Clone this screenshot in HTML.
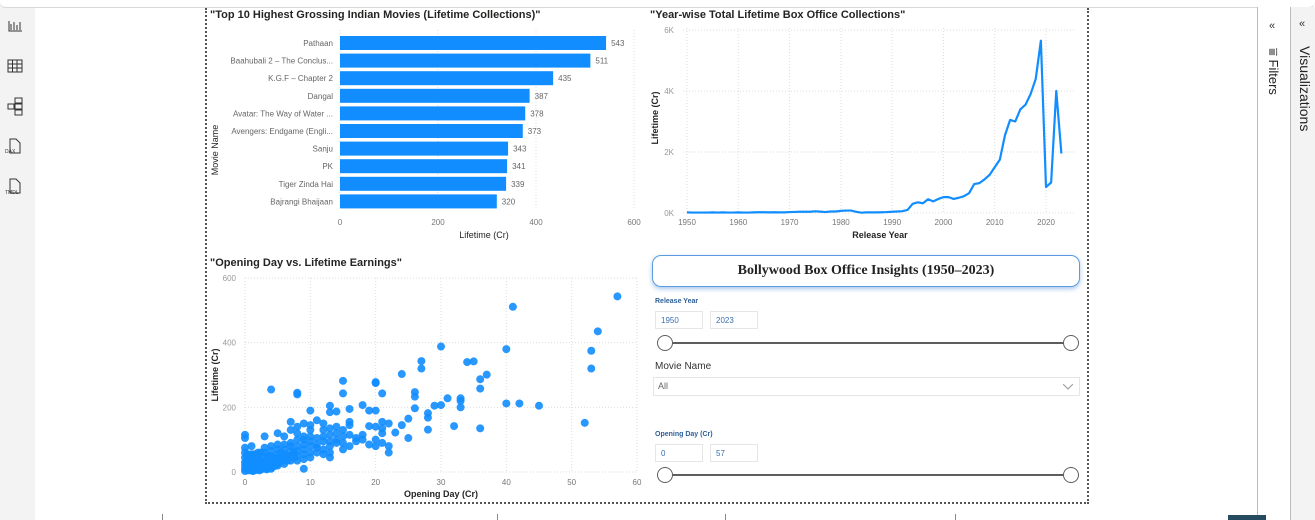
<!DOCTYPE html>
<html><head><meta charset="utf-8">
<style>
body{margin:0;width:1315px;height:520px;overflow:hidden;background:#fff;font-family:"Liberation Sans",sans-serif;position:relative}
.abs{position:absolute}
.inp{position:absolute;width:48px;height:18px;border:1px solid #e6e6e6;font-size:8px;color:#3a6fb0;line-height:18px;padding-left:5px;box-sizing:border-box}
</style></head><body>
<div class="abs" style="left:0;top:0;width:35px;height:520px;background:#f3f3f3"></div>
<div class="abs" style="left:0;top:0;width:1315px;height:7px;background:#fff;border-bottom:1px solid #d8d8d8;border-radius:0 0 6px 6px"></div>
<svg class="abs" style="left:0;top:0" width="35" height="210">
<g stroke="#333" fill="none" stroke-width="1">
<path d="M9 21v10h13M11 24v6M14 22v8M17 25v5M20 22v8"/>
<rect x="8" y="60" width="14" height="12"/><path d="M8 64h14M8 68h14M12.5 60v12M17 60v12"/>
<rect x="15" y="98" width="7" height="5"/><rect x="15" y="104" width="7" height="5"/><rect x="15" y="110" width="7" height="5"/><rect x="8" y="104" width="6" height="5"/>
<path d="M10 139h6l4 4v10h-10z"/><path d="M10 179h6l4 4v10h-10z"/></g>
<text x="5" y="153" font-size="5" fill="#333">DAX</text><text x="5" y="194" font-size="5" fill="#333">TMDL</text></svg>
<div class="abs" style="left:1257px;top:7px;width:33px;height:513px;border-left:1px solid #bbb;background:#fff"></div>
<div class="abs" style="left:1290px;top:7px;width:25px;height:513px;border-left:1px solid #bbb;background:#f3f3f3"></div>
<div class="abs" style="left:1269px;top:20px;font-size:11px;color:#333">«</div>
<div class="abs" style="left:1299px;top:18px;font-size:11px;color:#333">«</div>
<div class="abs" style="left:1266px;top:48px;writing-mode:vertical-rl;font-size:13px;color:#222">⩸ Filters</div>
<div class="abs" style="left:1297px;top:46px;writing-mode:vertical-rl;font-size:14px;color:#222">Visualizations</div>
<div class="abs" style="left:1228px;top:515px;width:38px;height:5px;background:#264a60"></div>
<div class="abs" style="left:205px;top:8px;width:880px;height:494px;border:2px dotted #555;border-top:none"></div>

<svg class="abs" style="left:0;top:0" width="1315" height="520" id="charts" font-family="Liberation Sans, sans-serif">
<text x="210" y="18" font-size="11" font-weight="bold" fill="#252423">"Top 10 Highest Grossing Indian Movies (Lifetime Collections)"</text>
<text x="650" y="18" font-size="11" font-weight="bold" fill="#252423">"Year-wise Total Lifetime Box Office Collections"</text>
<text x="210" y="266" font-size="11" font-weight="bold" fill="#252423">"Opening Day vs. Lifetime Earnings"</text>
<g id="bar"></g><g id="line"></g><g id="scatter"></g>
<g fill="#888"><rect x="162" y="514" width="1" height="6"/><rect x="497" y="514" width="1" height="6"/><rect x="725" y="514" width="1" height="6"/><rect x="955" y="514" width="1" height="6"/></g>
</svg>

<div class="abs" style="left:652px;top:255px;width:428px;height:32px;box-sizing:border-box;border:1.5px solid #5a9be0;border-radius:9px;box-shadow:0 2px 5px rgba(60,130,220,.45);text-align:center;line-height:30px;font-family:'Liberation Serif',serif;font-weight:bold;font-size:14px;color:#222">Bollywood Box Office Insights (1950–2023)</div>
<div class="abs" style="left:655px;top:298px;font-size:7px;font-weight:bold;color:#2d5f99">Release Year</div>
<div class="inp" style="left:655px;top:311px">1950</div>
<div class="inp" style="left:710px;top:311px">2023</div>
<div class="abs" style="left:665px;top:342px;width:406px;height:2px;background:#605e5c"></div>
<div class="abs" style="left:657px;top:335px;width:14px;height:14px;border:1.5px solid #605e5c;border-radius:50%;background:#fff"></div>
<div class="abs" style="left:1063px;top:335px;width:14px;height:14px;border:1.5px solid #605e5c;border-radius:50%;background:#fff"></div>
<div class="abs" style="left:655px;top:361px;font-size:10px;color:#333">Movie Name</div>
<div class="abs" style="left:653px;top:377px;width:427px;height:19px;border:1px solid #e6e6e6;box-sizing:border-box;font-size:9px;color:#666;line-height:17px;padding-left:4px">All<svg style="position:absolute;right:6px;top:6px" width="10" height="6"><path d="M0 0l5 5l5-5" fill="none" stroke="#999"/></svg></div>
<div class="abs" style="left:655px;top:431px;font-size:7px;font-weight:bold;color:#2d5f99">Opening Day (Cr)</div>
<div class="inp" style="left:655px;top:444px">0</div>
<div class="inp" style="left:710px;top:444px">57</div>
<div class="abs" style="left:665px;top:474px;width:406px;height:2px;background:#605e5c"></div>
<div class="abs" style="left:657px;top:467px;width:14px;height:14px;border:1.5px solid #605e5c;border-radius:50%;background:#fff"></div>
<div class="abs" style="left:1063px;top:467px;width:14px;height:14px;border:1.5px solid #605e5c;border-radius:50%;background:#fff"></div>

<script>
const barMovies=["Pathaan","Baahubali 2 – The Conclus...","K.G.F – Chapter 2","Dangal","Avatar: The Way of Water ...","Avengers: Endgame (Engli...","Sanju","PK","Tiger Zinda Hai","Bajrangi Bhaijaan"];
const barValues=[543,511,435,387,378,373,343,341,339,320];
const barTicks=[0,200,400,600];
const lineYears=[];for(let y=1950;y<=2023;y++)lineYears.push(y);
const lineValues=[20,15,15,15,15,20,15,20,15,15,20,15,15,20,25,25,20,25,20,20,30,35,40,40,40,55,45,30,50,50,70,80,80,40,10,20,20,20,25,30,40,50,60,100,300,350,320,450,380,460,520,520,460,500,550,650,950,980,1100,1250,1500,1750,2550,3050,3000,3400,3550,3900,4400,5650,850,1000,4000,1950];
const lineXTicks=[1950,1960,1970,1980,1990,2000,2010,2020];
const lineYTicks=[0,2000,4000,6000];
const lineYLabels=["0K","2K","4K","6K"];
const scatterOpening=[57,41,54,53,53,52,30,40,40,42,45,34,35,27,27,24,36,37,36,36,26,26,26,31,33,33,33,29,30,28,28,28,32,25,25,24,23,22,22,22,21,21,21,21,21,20,20,20,20,20,20,19,19,19,18,18,18,17,17,16,16,16,16,16,15,15,15,15,15,15,14,14,14,14,14,13,13,13,13,13,13,13,13,12,12,12,12,12,12,11,11,11,11,11,10,10,10,10,10,10,10,10,9,9,9,9,9,9,9,9,8,8,8,8,8,8,8,8,8,7,7,7,7,7,7,7,6,6,6,6,6,6,5,5,5,5,5,5,4,4,4,4,4,4,4,3,3,3,3,3,3,2,2,2,2,2,2,1,1,1,1,1,1,1,0,0,0,0,0,0,0,0,0,0.5,0.5,1.5,1.5,2.5,2.5,3.5,3.5,4.5,4.5,5.5,5.5,6.5,6.5,7.5,7.5,0.3,0.8,1.2,2.2,3.3,0.5,1,1.5,2,2.5,3,3.5,4,4.5,5,0.2,0.7,1.7,2.7,3.7,4.7,5.7,0.4,1.4,2.4];
const scatterLifetime=[543,511,435,375,320,152,388,380,212,212,205,340,342,343,320,303,287,301,258,135,247,233,197,228,228,220,200,205,207,182,168,131,142,165,105,145,122,150,80,60,243,155,135,120,90,278,275,190,140,100,80,190,142,85,207,115,100,95,105,195,155,145,115,80,282,243,130,110,90,70,187,140,120,100,90,205,185,135,115,95,80,60,45,150,130,110,95,70,55,160,105,85,75,60,190,145,130,110,95,80,60,45,150,110,100,85,70,55,40,10,245,240,140,120,100,80,65,50,35,155,130,90,80,65,50,35,110,85,70,55,40,25,120,85,70,55,40,25,255,80,65,50,35,20,10,110,75,60,45,30,15,60,50,40,30,20,10,80,55,45,35,25,15,5,115,105,75,60,45,30,20,10,3,40,20,30,10,35,15,50,25,45,30,60,40,50,35,60,45,50,8,3,5,8,5,10,5,12,8,15,10,15,18,20,28,25,22,20,25,30,35,55,55,60];
const scatterXTicks=[0,10,20,30,40,50,60];
const scatterYTicks=[0,200,400,600];
const NS="http://www.w3.org/2000/svg";
function mk(p,t,a,txt){const e=document.createElementNS(NS,t);for(const k in a)e.setAttribute(k,a[k]);if(txt!==undefined)e.textContent=txt;p.appendChild(e);return e;}
// BAR
const bg=document.getElementById('bar');
const bx=v=>340+v*(294/600), by=i=>36+i*17.6;
barTicks.forEach(t=>{const g=mk(bg,'line',{x1:bx(t),x2:bx(t),y1:30,y2:210,stroke:'#ddd','stroke-dasharray':'1,2'});

const l=mk(bg,'text',{x:bx(t),y:225,'font-size':8,fill:'#777','text-anchor':'middle'},t);
});
barValues.forEach((v,i)=>{const r=mk(bg,'rect',{x:bx(0),y:by(i),width:bx(v)-bx(0),height:14,fill:'#118dff'});

const n=mk(bg,'text',{x:333,y:by(i)+10,'font-size':8,fill:'#666','text-anchor':'end'},barMovies[i]);

const d=mk(bg,'text',{x:bx(v)+5,y:by(i)+10,'font-size':8,fill:'#666'},v);
});
let t1=mk(bg,'text',{x:484,y:238,'font-size':9,fill:'#252423','text-anchor':'middle'},'Lifetime (Cr)');

let t2=mk(bg,'text',{x:218,y:150,'font-size':9,fill:'#252423','text-anchor':'middle',transform:'rotate(-90 218 150)'},'Movie Name');

// LINE
const lg=document.getElementById('line');
const lx=y=>687+(y-1950)*(359/70), ly=v=>213-v*(183/6000);
lineYTicks.forEach((t,i)=>{const g=mk(lg,'line',{x1:683,x2:1075,y1:ly(t),y2:ly(t),stroke:'#ddd','stroke-dasharray':'1,2'});

const l=mk(lg,'text',{x:674,y:ly(t)+3,'font-size':8,fill:'#999','text-anchor':'end'},lineYLabels[i]);
});
lineXTicks.forEach(t=>{const g=mk(lg,'line',{x1:lx(t),x2:lx(t),y1:28,y2:213,stroke:'#ddd','stroke-dasharray':'1,2'});

const l=mk(lg,'text',{x:lx(t),y:225,'font-size':8,fill:'#777','text-anchor':'middle'},t);
});
const pl=mk(lg,'polyline',{points:lineValues.map((v,i)=>lx(lineYears[i])+','+ly(v)).join(' '),fill:'none',stroke:'#118dff','stroke-width':2.2,'stroke-linejoin':'round'});

let t3=mk(lg,'text',{x:880,y:238,'font-size':9,'font-weight':'bold',fill:'#252423','text-anchor':'middle'},'Release Year');

let t4=mk(lg,'text',{x:658,y:118,'font-size':9,'font-weight':'bold',fill:'#252423','text-anchor':'middle',transform:'rotate(-90 658 118)'},'Lifetime (Cr)');

// SCATTER
const sg=document.getElementById('scatter');
const sx=v=>245+v*(392/60), sy=v=>472-v*(194/600);
scatterYTicks.forEach(t=>{const g=mk(sg,'line',{x1:245,x2:637,y1:sy(t),y2:sy(t),stroke:'#ddd','stroke-dasharray':'1,2'});

const l=mk(sg,'text',{x:236,y:sy(t)+3,'font-size':8,fill:'#999','text-anchor':'end'},t);
});
scatterXTicks.forEach(t=>{const g=mk(sg,'line',{x1:sx(t),x2:sx(t),y1:278,y2:472,stroke:'#ddd','stroke-dasharray':'1,2'});

const l=mk(sg,'text',{x:sx(t),y:485,'font-size':8,fill:'#777','text-anchor':'middle'},t);
});
scatterOpening.forEach((o,i)=>{const c=mk(sg,'circle',{cx:sx(o),cy:sy(scatterLifetime[i]),r:4,fill:'#118dff','fill-opacity':0.9});
});
let t5=mk(sg,'text',{x:441,y:497,'font-size':9,'font-weight':'bold',fill:'#252423','text-anchor':'middle'},'Opening Day (Cr)');

let t6=mk(sg,'text',{x:218,y:375,'font-size':9,'font-weight':'bold',fill:'#252423','text-anchor':'middle',transform:'rotate(-90 218 375)'},'Lifetime (Cr)');

</script>
</body></html>
